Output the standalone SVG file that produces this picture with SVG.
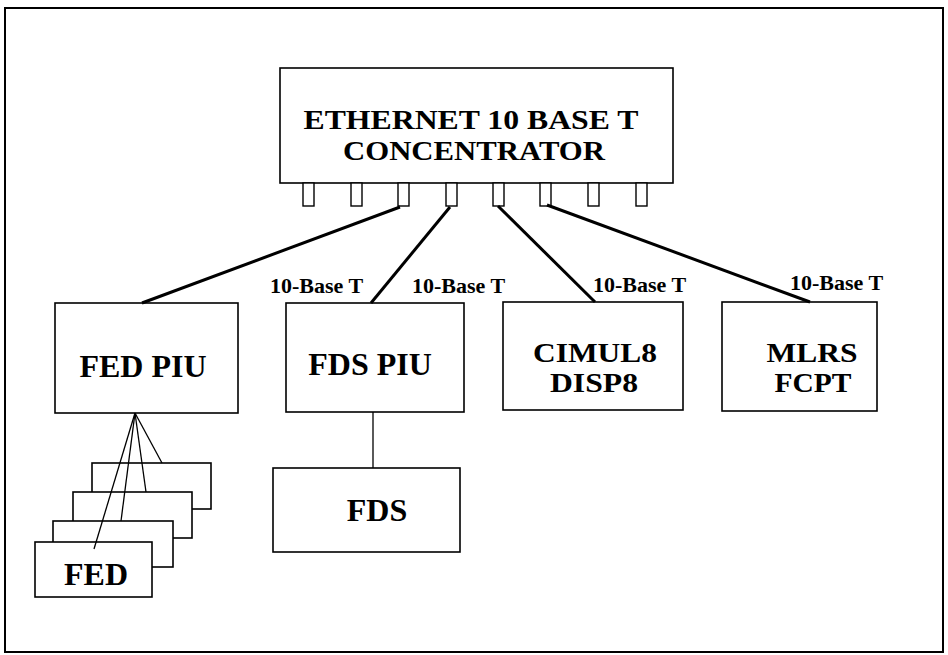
<svg xmlns="http://www.w3.org/2000/svg" width="948" height="655" viewBox="0 0 948 655">
<style>
.box{fill:#fff;stroke:#000;stroke-width:1.6}
.port{fill:#fff;stroke:#000;stroke-width:1.4}
.t{font-family:"Liberation Serif","Times New Roman",serif;font-weight:bold;font-size:32px;fill:#000;text-anchor:middle}
.t2{font-family:"Liberation Serif","Times New Roman",serif;font-weight:bold;font-size:27px;fill:#000;text-anchor:middle}
.lbl{font-family:"Liberation Serif","Times New Roman",serif;font-weight:bold;font-size:22px;fill:#000}
.thick{stroke:#000;stroke-width:3;fill:none}
.thin{stroke:#000;stroke-width:1.3;fill:none}
</style>
<rect x="0" y="0" width="948" height="655" fill="#fff"/>
<rect x="5" y="8" width="938" height="644" fill="none" stroke="#000" stroke-width="2"/>
<g id="concentrator">
<rect class="box" x="280" y="68" width="393" height="115"/>
<text class="t2" x="471" y="129" textLength="335" lengthAdjust="spacingAndGlyphs">ETHERNET 10 BASE T</text>
<text class="t2" x="474" y="160" textLength="262" lengthAdjust="spacingAndGlyphs">CONCENTRATOR</text>
<rect class="port" x="303" y="183" width="11" height="23"/>
<rect class="port" x="351" y="183" width="11" height="23"/>
<rect class="port" x="398" y="183" width="11" height="23"/>
<rect class="port" x="446" y="183" width="11" height="23"/>
<rect class="port" x="493" y="183" width="11" height="23"/>
<rect class="port" x="540" y="183" width="11" height="23"/>
<rect class="port" x="588" y="183" width="11" height="23"/>
<rect class="port" x="636" y="183" width="11" height="23"/>
</g>
<g id="fed-piu">
<rect class="box" x="55" y="303" width="183" height="110"/>
<text class="t" x="143" y="377">FED PIU</text>
</g>
<g id="fds-piu">
<rect class="box" x="286" y="303" width="178" height="109"/>
<text class="t" x="370" y="375">FDS PIU</text>
</g>
<g id="cimul8">
<rect class="box" x="503" y="302" width="180" height="108"/>
<text class="t2" x="595" y="362" textLength="124" lengthAdjust="spacingAndGlyphs">CIMUL8</text>
<text class="t2" x="594" y="392" textLength="88" lengthAdjust="spacingAndGlyphs">DISP8</text>
</g>
<g id="mlrs">
<rect class="box" x="722" y="302" width="155" height="109"/>
<text class="t2" x="812" y="362" textLength="91" lengthAdjust="spacingAndGlyphs">MLRS</text>
<text class="t2" x="813" y="392" textLength="77" lengthAdjust="spacingAndGlyphs">FCPT</text>
</g>
<g id="fds">
<rect class="box" x="273" y="468" width="187" height="84"/>
<text class="t" x="377" y="521">FDS</text>
</g>
<g id="fed-stack">
<rect class="box" x="92" y="463" width="119" height="46"/>
<rect class="box" x="73" y="492" width="119" height="46"/>
<rect class="box" x="53" y="521" width="120" height="46"/>
<rect class="box" x="35" y="542" width="117" height="55"/>
<text class="t" x="96" y="585">FED</text>
</g>
<g id="connectors">
<line class="thick" x1="400" y1="207" x2="142" y2="303"/>
<line class="thick" x1="450" y1="207" x2="371" y2="303"/>
<line class="thick" x1="498" y1="206" x2="595" y2="302"/>
<line class="thick" x1="547" y1="205" x2="810" y2="302"/>
<line class="thin" x1="373" y1="412" x2="373" y2="468"/>
<line class="thin" x1="135" y1="413" x2="162" y2="463"/>
<line class="thin" x1="135" y1="413" x2="146" y2="492"/>
<line class="thin" x1="135" y1="413" x2="121" y2="521"/>
<line class="thin" x1="135" y1="413" x2="94" y2="549"/>
</g>
<g id="labels">
<text class="lbl" x="270" y="293">10-Base T</text>
<text class="lbl" x="412" y="293">10-Base T</text>
<text class="lbl" x="593" y="292">10-Base T</text>
<text class="lbl" x="790" y="290">10-Base T</text>
</g>
</svg>
